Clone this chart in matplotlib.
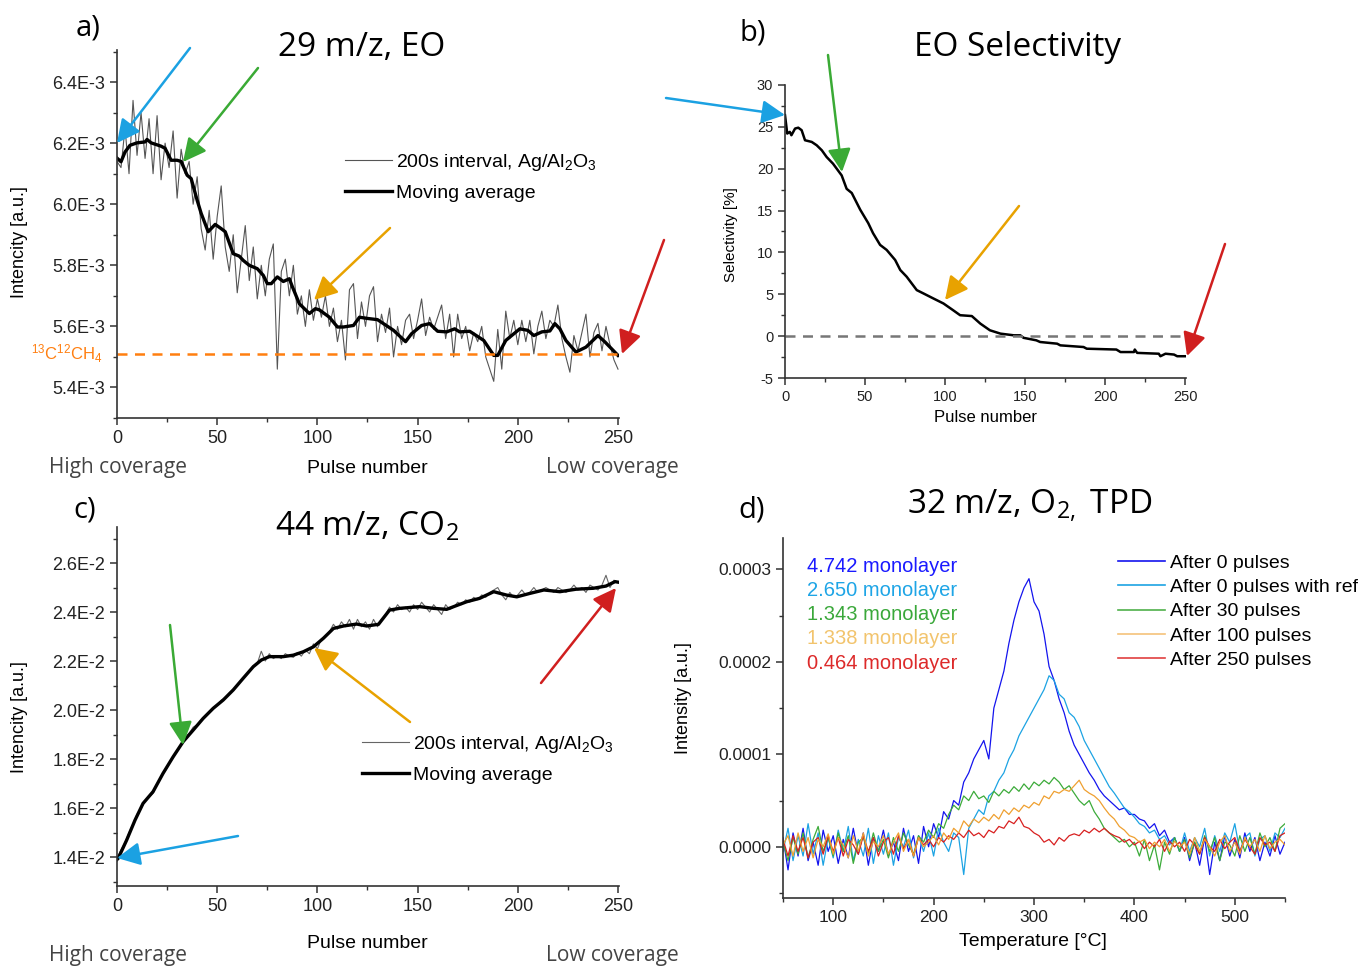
import matplotlib
matplotlib.use("Agg")
import matplotlib.pyplot as plt
import numpy as np
from matplotlib import font_manager
from matplotlib.patches import FancyArrowPatch
from matplotlib.ticker import MultipleLocator, FuncFormatter

# ---------------- data ----------------
# a) 29 m/z, EO  (intensity in units of 1E-3)
a_raw_pulse = list(range(0, 251, 2))
a_raw = [6.14, 6.12, 6.25, 6.10, 6.34, 6.16, 6.30, 6.15, 6.28, 6.10,
         6.29, 6.08, 6.20, 6.12, 6.24, 6.02, 6.18, 6.10, 6.14, 6.00,
         6.09, 5.92, 5.85, 5.98, 5.82, 5.96, 6.06, 5.86, 5.78, 5.90,
         5.71, 5.82, 5.93, 5.75, 5.86, 5.69, 5.80, 5.70, 5.82, 5.87,
         5.46, 5.78, 5.82, 5.70, 5.80, 5.64, 5.70, 5.60, 5.72, 5.62,
         5.69, 5.63, 5.70, 5.60, 5.66, 5.55, 5.62, 5.49, 5.72, 5.74,
         5.56, 5.68, 5.60, 5.70, 5.73, 5.55, 5.64, 5.58, 5.66, 5.50,
         5.60, 5.54, 5.62, 5.64, 5.56, 5.62, 5.69, 5.57, 5.63, 5.59,
         5.63, 5.67, 5.56, 5.64, 5.50, 5.64, 5.56, 5.60, 5.52, 5.58,
         5.55, 5.60, 5.50, 5.46, 5.42, 5.59, 5.46, 5.65, 5.56, 5.62,
         5.54, 5.62, 5.55, 5.62, 5.51, 5.60, 5.65, 5.56, 5.62, 5.60,
         5.67, 5.56, 5.50, 5.45, 5.57, 5.52, 5.58, 5.64, 5.50, 5.58,
         5.61, 5.52, 5.60, 5.54, 5.49, 5.46]
a_ma_pulse = [0, 2, 4, 6.5, 10, 14, 15, 17, 22, 24, 27, 30, 32, 35, 37, 40,
              42, 45.5, 49, 52, 54, 58, 61, 63, 66, 70, 73, 75, 77, 80, 83,
              86, 87.5, 91, 96, 99, 101, 106, 110, 113, 118, 121, 125, 130,
              138, 144, 147, 152, 156, 160, 164.5, 168.5, 171, 176, 183, 188,
              190, 194, 201, 205, 208, 212, 216, 218.5, 221, 224, 229, 234,
              240, 243.5, 250]
a_ma = [6.151, 6.139, 6.171, 6.193, 6.201, 6.204, 6.212, 6.201, 6.190, 6.183,
        6.144, 6.144, 6.140, 6.095, 6.084, 6.013, 5.970, 5.910, 5.934, 5.920,
        5.910, 5.838, 5.830, 5.816, 5.800, 5.789, 5.767, 5.740, 5.740, 5.762,
        5.747, 5.756, 5.730, 5.674, 5.642, 5.658, 5.654, 5.630, 5.598, 5.598,
        5.603, 5.630, 5.626, 5.622, 5.587, 5.550, 5.576, 5.603, 5.609, 5.584,
        5.582, 5.592, 5.582, 5.584, 5.554, 5.505, 5.505, 5.554, 5.592, 5.587,
        5.570, 5.582, 5.585, 5.609, 5.592, 5.554, 5.516, 5.532, 5.570, 5.549,
        5.505]
a_ref_level = 5.508

# b) EO selectivity [%]
b_pulse = [0, 1.4, 3, 4, 6.3, 8.3, 10.4, 12.5, 16.7, 19.8, 23, 26, 30, 35.4,
           38.5, 41.7, 47, 52, 55, 59.4, 63.5, 68.8, 72, 76, 82.3, 86.5, 92.7,
           99, 105, 109.4, 116.7, 122, 128, 134.6, 142.9, 147, 149, 157,
           159.4, 170, 172, 186.5, 188.5, 207, 209.6, 218, 218.5, 220, 233.5,
           234.5, 237.7, 243, 245, 250]
b_sel = [26.4, 24.2, 24.4, 24.0, 24.8, 24.9, 24.6, 23.4, 23.2, 22.8, 22.2,
         21.4, 20.6, 19.2, 17.6, 17.1, 15.1, 13.5, 12.3, 10.9, 10.3, 9.1,
         7.9, 7.1, 5.5, 5.1, 4.5, 3.9, 3.1, 2.5, 2.4, 1.5, 0.7, 0.3, 0.1,
         0.1, -0.2, -0.5, -0.7, -0.9, -1.1, -1.3, -1.5, -1.6, -1.9, -1.9,
         -1.6, -2.0, -2.1, -2.4, -2.1, -2.2, -2.4, -2.4]

# c) 44 m/z, CO2 (intensity in units of 1E-2)
c_raw_pulse = list(range(0, 251, 2))
c_raw = [1.395, 1.43, 1.46, 1.50, 1.535, 1.575, 1.60, 1.63, 1.645, 1.66,
         1.695, 1.73, 1.75, 1.78, 1.81, 1.83, 1.86, 1.885, 1.905, 1.93,
         1.94, 1.96, 1.975, 1.99, 2.01, 2.02, 2.04, 2.05, 2.07, 2.085,
         2.10, 2.12, 2.14, 2.16, 2.18, 2.19, 2.24, 2.20, 2.23, 2.21,
         2.22, 2.21, 2.23, 2.22, 2.215, 2.235, 2.22, 2.245, 2.23, 2.27,
         2.25, 2.29, 2.30, 2.32, 2.35, 2.33, 2.36, 2.34, 2.37, 2.33,
         2.37, 2.34, 2.36, 2.33, 2.37, 2.34, 2.37, 2.39, 2.42, 2.40,
         2.43, 2.41, 2.42, 2.40, 2.43, 2.41, 2.44, 2.42, 2.40, 2.43,
         2.41, 2.39, 2.43, 2.41, 2.42, 2.44, 2.43, 2.45, 2.44, 2.46,
         2.45, 2.47, 2.46, 2.48, 2.49, 2.50, 2.47, 2.45, 2.48, 2.46,
         2.47, 2.49, 2.47, 2.48, 2.50, 2.48, 2.49, 2.50, 2.49, 2.48,
         2.50, 2.49, 2.48, 2.49, 2.51, 2.49, 2.50, 2.48, 2.51, 2.50,
         2.49, 2.51, 2.55, 2.50, 2.53, 2.52]
c_ma_pulse = [0, 0.6, 4.8, 9, 13, 18, 23, 28, 33, 38, 43, 48, 53, 58, 63, 68,
              72, 76, 83, 88, 93, 98, 103, 108, 113, 119.6, 124.6, 128, 130.5,
              136, 141, 151, 158, 164.5, 168, 174.5, 181, 188, 194.5, 199.5,
              206, 213, 221, 229, 237.7, 244, 248.5, 250]
c_ma = [1.39, 1.395, 1.469, 1.551, 1.619, 1.667, 1.742, 1.809, 1.871, 1.918,
        1.966, 2.007, 2.041, 2.082, 2.130, 2.177, 2.204, 2.218, 2.218, 2.224,
        2.238, 2.258, 2.293, 2.333, 2.343, 2.351, 2.343, 2.347, 2.350, 2.408,
        2.415, 2.422, 2.415, 2.411, 2.422, 2.442, 2.456, 2.483, 2.469, 2.462,
        2.476, 2.490, 2.483, 2.493, 2.497, 2.506, 2.524, 2.522]

# d) 32 m/z, O2 TPD (intensity in units of 1E-4)
d_temp = list(range(50, 551, 5))
d_0 = [0.10, -0.25, 0.15, -0.10, 0.20, -0.15, 0.05, -0.20, 0.18, -0.05,
       0.12, -0.18, 0.08, -0.12, 0.20, -0.08, 0.15, -0.20, 0.10, -0.05,
       0.18, -0.10, 0.05, -0.15, 0.20, -0.05, 0.12, -0.18, 0.22, 0.00,
       0.25, 0.10, 0.38, 0.30, 0.50, 0.45, 0.70, 0.80, 0.95, 1.05,
       1.15, 0.95, 1.50, 1.70, 1.90, 2.20, 2.45, 2.65, 2.80, 2.90,
       2.65, 2.55, 2.30, 1.95, 1.80, 1.60, 1.45, 1.25, 1.10, 1.00,
       0.90, 0.80, 0.72, 0.62, 0.55, 0.50, 0.45, 0.40, 0.42, 0.35,
       0.35, 0.30, 0.28, 0.20, 0.25, 0.12, 0.18, 0.05, 0.10, -0.05,
       0.10, -0.15, 0.05, -0.20, 0.10, -0.30, 0.05, -0.15, 0.12, -0.10,
       0.08, -0.12, 0.15, -0.05, 0.10, -0.15, 0.05, -0.10, 0.12, -0.08,
       0.05]
d_0ref = [-0.05, 0.20, -0.15, 0.12, -0.10, 0.25, -0.08, 0.15, -0.20, 0.10,
          -0.12, 0.18, -0.05, 0.22, -0.15, 0.08, -0.10, 0.20, -0.18, 0.12,
          -0.08, 0.15, -0.20, 0.10, 0.00, 0.18, -0.12, 0.12, -0.05, 0.15,
          -0.10, 0.20, 0.05, -0.05, 0.15, 0.10, -0.30, 0.20, 0.30, 0.40,
          0.35, 0.55, 0.60, 0.72, 0.80, 0.95, 1.05, 1.20, 1.30, 1.40,
          1.50, 1.60, 1.70, 1.85, 1.80, 1.65, 1.60, 1.45, 1.40, 1.30,
          1.15, 1.05, 0.95, 0.85, 0.75, 0.65, 0.58, 0.50, 0.42, 0.38,
          0.32, 0.25, 0.22, 0.15, 0.18, 0.08, 0.12, 0.02, 0.10, -0.05,
          0.15, -0.05, 0.10, 0.00, 0.20, -0.10, 0.12, -0.05, 0.15, 0.05,
          0.25, -0.05, 0.10, 0.15, -0.10, 0.08, 0.12, -0.05, 0.15, 0.10,
          0.20]
d_30 = [0.05, -0.15, 0.10, -0.08, 0.15, -0.12, 0.08, 0.22, -0.05, 0.10,
        -0.10, 0.15, -0.05, 0.12, -0.18, 0.05, 0.10, -0.08, 0.15, -0.05,
        0.08, -0.12, 0.10, -0.05, 0.15, 0.02, -0.08, 0.12, 0.05, 0.18,
        0.10, 0.25, 0.20, 0.35, 0.45, 0.40, 0.55, 0.50, 0.60, 0.52,
        0.55, 0.48, 0.60, 0.55, 0.62, 0.58, 0.65, 0.60, 0.68, 0.62,
        0.70, 0.66, 0.72, 0.68, 0.75, 0.70, 0.62, 0.66, 0.58, 0.50,
        0.45, 0.50, 0.38, 0.30, 0.20, 0.15, 0.10, 0.05, 0.08, 0.00,
        0.05, -0.10, 0.08, -0.15, 0.02, -0.25, 0.05, -0.08, 0.10, -0.05,
        0.08, -0.12, 0.05, -0.08, 0.12, -0.05, 0.10, -0.15, 0.05, 0.02,
        -0.10, 0.12, -0.05, 0.10, -0.08, 0.15, 0.00, 0.10, -0.05, 0.20,
        0.25]
d_100 = [0.02, 0.12, -0.10, 0.15, -0.05, 0.10, -0.12, 0.08, 0.00, 0.14,
         -0.08, 0.10, 0.02, -0.12, 0.12, -0.05, 0.15, -0.10, 0.06, 0.00,
         0.12, -0.08, 0.05, 0.15, -0.05, 0.08, -0.10, 0.10, 0.00, 0.05,
         0.12, 0.02, 0.15, 0.08, 0.20, 0.15, 0.28, 0.22, 0.30, 0.26,
         0.32, 0.28, 0.35, 0.30, 0.40, 0.35, 0.42, 0.38, 0.45, 0.42,
         0.48, 0.45, 0.55, 0.52, 0.60, 0.58, 0.62, 0.60, 0.66, 0.72,
         0.62, 0.58, 0.55, 0.50, 0.42, 0.35, 0.30, 0.22, 0.18, 0.12,
         0.10, 0.05, 0.08, -0.02, 0.05, 0.00, 0.08, -0.05, 0.06, 0.00,
         0.05, -0.08, 0.10, -0.05, 0.08, 0.00, -0.10, 0.05, 0.12, -0.05,
         0.05, -0.08, 0.10, 0.00, 0.08, -0.05, 0.12, -0.02, 0.05, 0.08,
         0.02]
d_250 = [0.08, -0.10, 0.12, -0.05, 0.10, -0.12, 0.05, 0.10, -0.08, 0.12,
         -0.05, 0.10, -0.10, 0.08, 0.02, -0.08, 0.12, -0.05, 0.10, -0.10,
         0.05, 0.10, -0.08, 0.12, -0.02, 0.08, -0.10, 0.10, 0.02, 0.08,
         0.00, 0.10, 0.05, 0.12, 0.08, 0.15, 0.10, 0.18, 0.12, 0.15,
         0.10, 0.18, 0.15, 0.22, 0.20, 0.28, 0.25, 0.32, 0.22, 0.20,
         0.15, 0.12, 0.05, 0.08, 0.02, 0.10, 0.06, 0.12, 0.14, 0.12,
         0.18, 0.15, 0.20, 0.16, 0.20, 0.15, 0.12, 0.10, 0.05, 0.08,
         0.02, 0.06, -0.02, 0.05, 0.00, 0.08, -0.05, 0.06, 0.00, 0.05,
         -0.05, 0.08, 0.02, -0.08, 0.10, 0.00, -0.05, 0.08, -0.02, 0.05,
         0.10, -0.05, 0.08, 0.00, -0.08, 0.10, 0.02, 0.05, -0.05, 0.12,
         0.15]
d_labels = ["After 0 pulses", "After 0 pulses with ref", "After 30 pulses",
            "After 100 pulses", "After 250 pulses"]
d_monolayers = ["4.742 monolayer", "2.650 monolayer", "1.343 monolayer",
                "1.338 monolayer", "0.464 monolayer"]

# ---------------- style ----------------
names = {f.name for f in font_manager.fontManager.ttflist}
NARROW = "Liberation Sans Narrow" if "Liberation Sans Narrow" in names else "Liberation Sans"
plt.rcParams["font.family"] = [NARROW, "DejaVu Sans"]
plt.rcParams["axes.linewidth"] = 1.2
plt.rcParams["axes.unicode_minus"] = False
TITLE_FONT = ["Open Sans", "DejaVu Sans"]

W, H = 1362, 966
fig = plt.figure(figsize=(W / 100, H / 100), dpi=100)


def fx(x):
    return x / W


def fy(y):
    return 1 - y / H


def axes_px(left, top, right, bottom):
    return fig.add_axes([left / W, 1 - bottom / H, (right - left) / W, (bottom - top) / H])


def style(ax, size):
    for s in ["top", "right"]:
        ax.spines[s].set_visible(False)
    for s in ["left", "bottom"]:
        ax.spines[s].set_color("#333333")
    ax.tick_params(which="major", direction="out", length=5, width=1.1,
                   labelsize=size, colors="#333333", labelcolor="#222222")
    ax.tick_params(which="minor", direction="out", length=3, width=1.0, colors="#333333")


def arrow(tail, head, color):
    fig.add_artist(FancyArrowPatch((fx(tail[0]), fy(tail[1])), (fx(head[0]), fy(head[1])),
                                   transform=fig.transFigure, arrowstyle="-|>,head_length=0.7,head_width=0.35",
                                   mutation_scale=20, color=color, lw=1.8, shrinkA=0, shrinkB=0))


BLUE_A, GREEN_A, ORANGE_A, RED_A = "#1ba1e2", "#3aaa35", "#e8a200", "#d01f1f"
sub = lambda s: r"$\mathregular{_{%s}}$" % s

# ---------------- a) ----------------
ax_a = axes_px(117, 50, 619, 418)
l_raw, = ax_a.plot(a_raw_pulse, a_raw, color="#555555", lw=0.8)
l_ma, = ax_a.plot(a_ma_pulse, a_ma, color="black", lw=2.4)
ax_a.axhline(a_ref_level, color="#ff7f10", lw=1.8, ls=(0, (4, 3)))
ax_a.set_xlim(0, 250.5)
ax_a.set_ylim(5.30, 6.505)
ax_a.xaxis.set_major_locator(MultipleLocator(50))
ax_a.xaxis.set_minor_locator(MultipleLocator(25))
ax_a.yaxis.set_major_locator(MultipleLocator(0.2))
ax_a.yaxis.set_minor_locator(MultipleLocator(0.1))
ax_a.yaxis.set_major_formatter(FuncFormatter(lambda v, _: f"{v:.1f}E-3"))
style(ax_a, 13)
ax_a.legend([l_raw, l_ma], ["200s interval, Ag/Al" + sub("2") + "O" + sub("3"), "Moving average"],
            loc="upper left", bbox_to_anchor=((345 - 117) / 502, (418 - 152) / 368),
            frameon=False, fontsize=14, handlelength=2.4, handletextpad=0.2,
            borderpad=0, borderaxespad=0, labelspacing=0.6)
fig.text(fx(102), fy(354), r"$\mathregular{^{13}}$C$\mathregular{^{12}}$CH" + sub("4"),
         color="#ff7f10", fontsize=12, ha="right", va="center")

# ---------------- b) ----------------
ax_b = axes_px(785, 85, 1186, 378)
ax_b.plot(b_pulse, b_sel, color="black", lw=1.8)
ax_b.axhline(0, color="#777777", lw=1.8, ls=(0, (4, 3)))
ax_b.set_xlim(0, 250.5)
ax_b.set_ylim(-5, 30)
ax_b.xaxis.set_major_locator(MultipleLocator(50))
ax_b.xaxis.set_minor_locator(MultipleLocator(25))
ax_b.yaxis.set_major_locator(MultipleLocator(5))
ax_b.yaxis.set_minor_locator(MultipleLocator(2.5))
style(ax_b, 10.5)

# ---------------- c) ----------------
ax_c = axes_px(117, 527, 619, 886)
r_raw, = ax_c.plot(c_raw_pulse, c_raw, color="#666666", lw=0.8)
r_ma, = ax_c.plot(c_ma_pulse, c_ma, color="black", lw=2.4)
ax_c.set_xlim(0, 250.5)
ax_c.set_ylim(1.282, 2.747)
ax_c.xaxis.set_major_locator(MultipleLocator(50))
ax_c.xaxis.set_minor_locator(MultipleLocator(25))
ax_c.yaxis.set_major_locator(MultipleLocator(0.2))
ax_c.yaxis.set_minor_locator(MultipleLocator(0.1))
ax_c.yaxis.set_major_formatter(FuncFormatter(lambda v, _: f"{v:.1f}E-2"))
style(ax_c, 13)
ax_c.legend([r_raw, r_ma], ["200s interval, Ag/Al" + sub("2") + "O" + sub("3"), "Moving average"],
            loc="upper left", bbox_to_anchor=((362 - 117) / 502, (886 - 734) / 359),
            frameon=False, fontsize=14, handlelength=2.4, handletextpad=0.2,
            borderpad=0, borderaxespad=0, labelspacing=0.6)

# ---------------- d) ----------------
ax_d = axes_px(783, 538, 1285, 898)
d_series = [d_0, d_0ref, d_30, d_250, d_100]
d_colors = ["#1414ee", "#1ca3e3", "#3cab3a", "#d82020", "#efa030"]
for vals, col in zip(d_series, d_colors):
    ax_d.plot(d_temp, vals, color=col, lw=0.9)
ax_d.set_xlim(50, 550)
ax_d.set_ylim(-0.554, 3.34)
ax_d.xaxis.set_major_locator(MultipleLocator(100))
ax_d.xaxis.set_minor_locator(MultipleLocator(50))
ax_d.yaxis.set_major_locator(MultipleLocator(1))
ax_d.yaxis.set_minor_locator(MultipleLocator(0.5))
ax_d.yaxis.set_major_formatter(FuncFormatter(lambda v, _: f"{v * 1e-4:.4f}"))
style(ax_d, 12.5)
leg_colors = ["#1414ee", "#1ca3e3", "#4fb04a", "#f5c27a", "#e04040"]
handles = [plt.Line2D([], [], color=c, lw=1.2) for c in leg_colors]
ax_d.legend(handles, d_labels, loc="upper left",
            bbox_to_anchor=((1118 - 783) / 502, (898 - 554) / 360),
            frameon=False, fontsize=14, handlelength=2.4, handletextpad=0.25,
            borderpad=0, borderaxespad=0, labelspacing=0.35)
text_colors = ["#1a1aff", "#1ea5e6", "#3aa83a", "#f2c46d", "#dd2a2a"]
for i, (t, c) in enumerate(zip(d_monolayers, text_colors)):
    fig.text(fx(807), fy(566 + 24.3 * i), t, color=c, fontsize=14.5, ha="left", va="center")

# ---------------- labels & titles ----------------
fig.text(fx(88), fy(28), "a)", fontsize=21, family=TITLE_FONT, ha="center", va="center")
fig.text(fx(753), fy(33), "b)", fontsize=21, family=TITLE_FONT, ha="center", va="center")
fig.text(fx(85), fy(510), "c)", fontsize=21, family=TITLE_FONT, ha="center", va="center")
fig.text(fx(752), fy(510), "d)", fontsize=21, family=TITLE_FONT, ha="center", va="center")
fig.text(fx(362), fy(47), "29 m/z, EO", fontsize=24, family=TITLE_FONT, ha="center", va="center")
fig.text(fx(1018), fy(47), "EO Selectivity", fontsize=24, family=TITLE_FONT, ha="center", va="center")
fig.text(fx(367), fy(527), "44 m/z, CO" + sub("2"), fontsize=24, family=TITLE_FONT, ha="center", va="center")
fig.text(fx(1030), fy(506), "32 m/z, O" + sub("2,") + " TPD", fontsize=24, family=TITLE_FONT,
         ha="center", va="center")

fig.text(fx(20), fy(242), "Intencity [a.u.]", fontsize=13, rotation=90, ha="center", va="center")
fig.text(fx(20), fy(717), "Intencity [a.u.]", fontsize=13, rotation=90, ha="center", va="center")
fig.text(fx(731), fy(235), "Selectivity [%]", fontsize=11, rotation=90, ha="center", va="center")
fig.text(fx(684), fy(698), "Intensity [a.u.]", fontsize=13, rotation=90, ha="center", va="center")
fig.text(fx(367), fy(469), "Pulse number", fontsize=14, ha="center", va="center")
fig.text(fx(367), fy(944), "Pulse number", fontsize=14, ha="center", va="center")
fig.text(fx(985), fy(418), "Pulse number", fontsize=12, ha="center", va="center")
fig.text(fx(1033), fy(941), "Temperature [°C]", fontsize=14, ha="center", va="center")
for y in (467, 955):
    fig.text(fx(118), fy(y), "High coverage", fontsize=15, family=TITLE_FONT, color="#444444",
             ha="center", va="center")
    fig.text(fx(612), fy(y), "Low coverage", fontsize=15, family=TITLE_FONT, color="#444444",
             ha="center", va="center")

# ---------------- arrows ----------------
arrow((190, 48), (117, 143), BLUE_A)
arrow((258, 68), (183, 162), GREEN_A)
arrow((390, 228), (314, 300), ORANGE_A)
arrow((664, 240), (622, 354), RED_A)
arrow((666, 98), (785, 115), BLUE_A)
arrow((828, 55), (842, 172), GREEN_A)
arrow((1019, 206), (945, 300), ORANGE_A)
arrow((1225, 244), (1187, 356), RED_A)
arrow((170, 625), (183, 745), GREEN_A)
arrow((238, 836), (117, 858), BLUE_A)
arrow((410, 722), (314, 648), ORANGE_A)
arrow((541, 683), (616, 588), RED_A)

fig.savefig("out.png", dpi=100)
